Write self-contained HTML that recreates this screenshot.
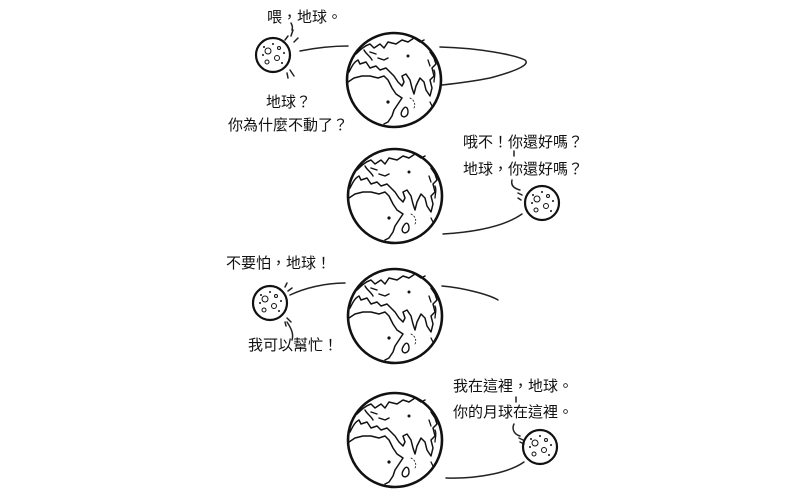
<!DOCTYPE html>
<html><head><meta charset="utf-8"><style>
html,body{margin:0;padding:0;background:#fff;}
svg{display:block}
text{font-family:"Liberation Sans","Noto Sans CJK TC",sans-serif;font-size:15px;fill:#111;}
</style></head><body>
<svg width="800" height="495" viewBox="0 0 800 495" xmlns="http://www.w3.org/2000/svg">
<defs>
<g id="earth" fill="none" stroke="#111" stroke-linecap="round" stroke-linejoin="round">
  <circle r="47" stroke-width="2.6"/>
  <path stroke-width="1.5" d="M-38,-26 C-34,-30 -30,-34 -24,-36 L-20,-32 L-14,-36 L-10,-32 L-6,-38 L2,-36 L8,-40 L14,-38 L20,-42 L26,-38 L30,-40"/>
  <path stroke-width="1.5" d="M-45,-8 C-42,-14 -40,-18 -36,-20 L-34,-16 L-28,-18 L-24,-12 L-18,-14 L-14,-10 L-8,-12 L-4,-8 L0,-4 L4,2 L8,6 L10,2 L8,-4 L12,-6 L16,0 L18,8 L20,14 L22,6 L26,-2 L30,2 L32,10 L36,16 L38,8 L36,0 L40,-4 L38,-12 L42,-16 L40,-22 L36,-28"/>
  <path stroke-width="1.5" d="M-46,2 L-40,-2 L-32,-4 L-24,-4 L-16,-2 L-10,-4 L-6,0 L-2,8 L2,14 L8,18 L4,24 L0,30 L-2,36 L-6,42 L-10,44"/>
  <path stroke-width="1.4" d="M-30,-30 C-28,-26 -24,-24 -22,-20 M-16,-22 L-10,-20 L-6,-22 M-24,-28 L-18,-26"/>
  <path stroke-width="1.4" d="M10,28 C12,26 14,28 14,32 C14,36 10,38 8,36 C6,34 8,30 10,28 Z"/>
  <path stroke-width="1.3" d="M34,-20 L36,-14 M40,-10 C42,-6 40,-2 40,2 M36,22 L38,26"/>
  <circle cx="-6" cy="22" r="1.6" fill="#111" stroke="none"/>
  <circle cx="14" cy="-24" r="1.5" fill="#111" stroke="none"/>
  <path stroke-width="0.8" stroke-dasharray="1.5 2" d="M16,18 C20,20 22,24 20,28"/>
</g>
<g id="moon" fill="none" stroke="#111" stroke-linecap="round">
  <circle r="17" stroke-width="2.2"/>
  <circle cx="-5" cy="-4" r="3" stroke-width="1"/>
  <circle cx="4" cy="3" r="2.5" stroke-width="1"/>
  <circle cx="6" cy="-7" r="1.5" stroke-width="1"/>
  <circle cx="-6" cy="7" r="2" stroke-width="1"/>
  <circle cx="9" cy="8" r="1" fill="#111" stroke="none"/>
  <circle cx="-10" cy="0" r="1" fill="#111" stroke="none"/>
  <circle cx="0" cy="-11" r="1" fill="#111" stroke="none"/>
  <circle cx="-9" cy="-8" r="1" fill="#111" stroke="none"/>
  <circle cx="11" cy="-2" r="1" fill="#111" stroke="none"/>
</g>
</defs>
<g fill="none" stroke="#222" stroke-width="1.5" stroke-linecap="round">
  <path d="M300,51 C320,47 335,46 348,46"/>
  <path d="M440,47 C480,48 515,55 525,60 C530,64 520,70 490,78 C475,81 460,83 442,85"/>
  <path d="M291,36 L293,30 M294,42 L298,38 M290,70 L294,76 M287,73 L288,78 M285,40 L288,36 M292,30 C293,27 292,25 291,23"/>
  <path d="M443,234 C475,232 505,226 522,214"/>
  <path d="M514,151 L514,156 M512,180 C511,184 512,188 520,190 M518,193 L522,195 M518,198 L521,200"/>
  <path d="M290,295 C305,288 325,283 345,283"/>
  <path d="M442,286 C465,288 490,295 498,300"/>
  <path d="M285,287 L287,283 M288,291 L292,288 M287,318 L291,322 M285,322 L286,326 M287,322 C291,328 294,334 292,340"/>
  <path d="M446,478 C480,479 510,472 524,462"/>
  <path d="M516,397 L516,402 M514,424 C512,428 513,434 520,436 M519,438 L523,440 M520,442 L524,444"/>
</g>
<use href="#earth" x="394" y="80"/>
<use href="#earth" x="395" y="196"/>
<use href="#earth" x="395" y="316"/>
<use href="#earth" x="395" y="440"/>
<use href="#moon" x="273" y="55"/>
<use href="#moon" x="542" y="203"/>
<use href="#moon" x="270" y="303"/>
<use href="#moon" x="540" y="447"/>
<text x="267" y="22">喂，地球。</text>
<text x="266" y="107">地球？</text>
<text x="228" y="130">你為什麼不動了？</text>
<text x="463" y="147">哦不！你還好嗎？</text>
<text x="463" y="174">地球，你還好嗎？</text>
<text x="226" y="268">不要怕，地球！</text>
<text x="248" y="350">我可以幫忙！</text>
<text x="453" y="391">我在這裡，地球。</text>
<text x="453" y="417">你的月球在這裡。</text>
</svg>
</body></html>
